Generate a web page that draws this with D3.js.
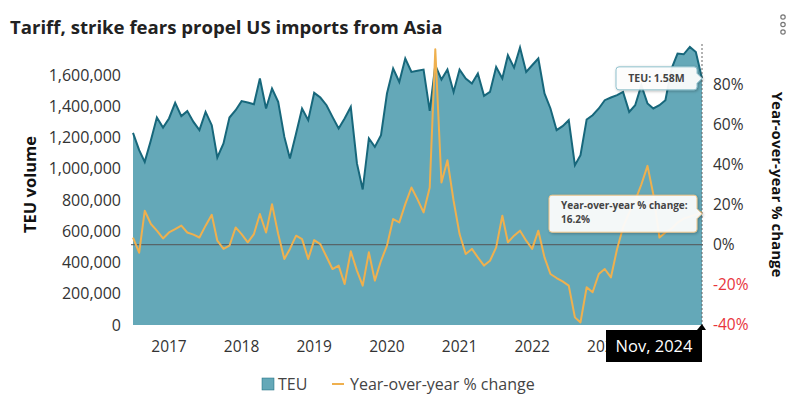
<!DOCTYPE html>
<html>
<head>
<meta charset="utf-8">
<script src="https://cdn.jsdelivr.net/npm/d3@7"></script>
<style>
    body { margin: 0; background: #fff; }
    text { font-family: "Open Sans", "Noto Sans", sans-serif; }
</style>
</head>
<body>
<div id="chart"></div>
<script>
// Datos mensuales, enero 2017 - noviembre 2024
var startMonth = new Date(2017, 0, 1);

var teuValues = [
    1231000, 1120000, 1045000, 1184000, 1329000, 1265000, 1323000, 1423000, 1338000, 1370000, 1301000, 1248000,
    1365000, 1280000, 1073000, 1163000, 1329000, 1376000, 1434000, 1425000, 1414000, 1579000, 1387000, 1515000,
    1429000, 1205000, 1067000, 1227000, 1387000, 1312000, 1487000, 1457000, 1408000, 1333000, 1259000, 1323000,
    1397000, 1035000, 868000, 1195000, 1141000, 1216000, 1483000, 1643000, 1557000, 1707000, 1621000, 1628000,
    1636000, 1371000, 1664000, 1572000, 1636000, 1493000, 1636000, 1579000, 1547000, 1611000, 1468000, 1493000,
    1653000, 1579000, 1728000, 1649000, 1777000, 1621000, 1664000, 1707000, 1483000, 1387000, 1248000, 1274000,
    1312000, 1024000, 1088000, 1316000, 1344000, 1387000, 1440000, 1457000, 1472000, 1493000, 1365000, 1408000,
    1536000, 1419000, 1387000, 1408000, 1440000, 1643000, 1739000, 1734000, 1781000, 1749000, 1580000
];

var yoyValues = [
    3.5, -4, 16.9, 10.3, 7, 3.1, 6.1, 7.8, 9.5, 6.1, 5, 3.6,
    9.5, 14.9, 2, -2.1, -0.5, 8.6, 5.3, 1.2, 5.3, 15.3, 6.1, 20.2,
    5.3, -7.1, -2.1, 4.5, 2.8, -7.1, 2.3, 0.3, -6, -12.1, -10.4, -19.6,
    -3.3, -12.9, -20.4, -3.8, -17.9, -8, -0.5, 12.8, 11.1, 20.2, 28.5, 22.7,
    16.1, 28.5, 97.4, 31, 42.1, 21.9, 5.3, -4.6, -2.1, -6.3, -10.4, -8,
    -1.3, 14.4, 1.2, 4.5, 7, 2, -2.1, 7, -6.3, -14.6, -16.6, -18.3,
    -20.4, -36.2, -38.7, -21.2, -23.7, -14.6, -12.1, -16.3, -2.1, 8.6, 16, 22,
    30, 39.3, 25.2, 3.6, 6.1, 8, 11, 13, 14, 15, 16.2
];

// 2024 queda tapado por la etiqueta de fecha
var yearLabels = [2017, 2018, 2019, 2020, 2021, 2022, 2023];
var teuTicks = [0, 200000, 400000, 600000, 800000, 1000000, 1200000, 1400000, 1600000];
var yoyTicks = [-40, -20, 0, 20, 40, 60, 80];

var data = teuValues.map(function(v, i) {
    return { date: d3.timeMonth.offset(startMonth, i), teu: v, yoy: yoyValues[i] };
});

var width = 795;
var height = 397;
var margin = { top: 44, right: 93, bottom: 72, left: 133 };

var teuColor = "#64a8b8";
var teuLine = "#17677b";
var yoyColor = "#efb04e";

var svg = d3.select("#chart")
    .append("svg")
    .attr("width", width)
    .attr("height", height);

// Escalas
var x = d3.scaleTime()
    .domain(d3.extent(data, function(d) { return d.date; }))
    .range([margin.left, width - margin.right]);

var yLeft = d3.scaleLinear()
    .domain([0, 1800000])
    .range([height - margin.bottom, margin.top]);

var yRight = d3.scaleLinear()
    .domain([-40, 100])
    .range([height - margin.bottom, margin.top]);

// Titulo
svg.append("text")
    .attr("x", 10)
    .attr("y", 34)
    .style("font-size", "18.6px")
    .style("font-weight", "bold")
    .style("fill", "#222")
    .text("Tariff, strike fears propel US imports from Asia");

// Menu
svg.selectAll(".dot")
    .data([17, 24.5, 32])
    .enter()
    .append("circle")
    .attr("cx", 783)
    .attr("cy", function(d) { return d; })
    .attr("r", 2.2)
    .style("fill", "none")
    .style("stroke", "#777")
    .style("stroke-width", 1.2);

// Area TEU
var area = d3.area()
    .x(function(d) { return x(d.date); })
    .y0(yLeft(0))
    .y1(function(d) { return yLeft(d.teu); });

var teuLineGen = d3.line()
    .x(function(d) { return x(d.date); })
    .y(function(d) { return yLeft(d.teu); });

svg.append("path")
    .datum(data)
    .attr("d", area)
    .style("fill", teuColor);

svg.append("path")
    .datum(data)
    .attr("d", teuLineGen)
    .style("fill", "none")
    .style("stroke", teuLine)
    .style("stroke-width", 2);

// Linea del 0%
svg.append("line")
    .attr("x1", margin.left - 2)
    .attr("x2", width - margin.right + 1)
    .attr("y1", yRight(0))
    .attr("y2", yRight(0))
    .style("stroke", "#555")
    .style("stroke-width", 1);

// Linea YoY
var yoyLineGen = d3.line()
    .x(function(d) { return x(d.date); })
    .y(function(d) { return yRight(d.yoy); });

svg.append("path")
    .datum(data)
    .attr("d", yoyLineGen)
    .style("fill", "none")
    .style("stroke", yoyColor)
    .style("stroke-width", 2)
    .style("stroke-linejoin", "round");

// Ejes
svg.selectAll(".lefttick")
    .data(teuTicks)
    .enter()
    .append("text")
    .attr("x", margin.left - 12)
    .attr("y", function(d) { return yLeft(d); })
    .attr("dy", "0.35em")
    .style("text-anchor", "end")
    .style("font-size", "16px")
    .style("fill", "#333")
    .text(function(d) { return d3.format(",")(d); });

svg.selectAll(".righttick")
    .data(yoyTicks)
    .enter()
    .append("text")
    .attr("x", width - margin.right + 11)
    .attr("y", function(d) { return yRight(d); })
    .attr("dy", "0.35em")
    .style("text-anchor", "start")
    .style("font-size", "15.5px")
    .style("fill", function(d) { return d < 0 ? "#e8343c" : "#333"; })
    .text(function(d) { return d + "%"; });

svg.selectAll(".yeartick")
    .data(yearLabels)
    .enter()
    .append("text")
    .attr("x", function(d) { return x(new Date(d, 6, 1)); })
    .attr("y", 347)
    .attr("dy", "0.35em")
    .style("text-anchor", "middle")
    .style("font-size", "15.5px")
    .style("fill", "#333")
    .text(function(d) { return d; });

svg.append("text")
    .attr("transform", "translate(30," + ((margin.top + height - margin.bottom) / 2) + ") rotate(-90)")
    .attr("dy", "0.35em")
    .style("text-anchor", "middle")
    .style("font-size", "16.5px")
    .style("font-weight", "bold")
    .style("fill", "#111")
    .text("TEU volume");

svg.append("text")
    .attr("transform", "translate(777," + ((margin.top + height - margin.bottom) / 2) + ") rotate(90)")
    .attr("dy", "0.35em")
    .style("text-anchor", "middle")
    .style("font-size", "15px")
    .style("font-weight", "bold")
    .style("fill", "#111")
    .text("Year-over-year % change");

// Crosshair en el ultimo punto
var last = data[data.length - 1];
var lx = x(last.date);

svg.append("line")
    .attr("x1", lx)
    .attr("x2", lx)
    .attr("y1", margin.top)
    .attr("y2", height - margin.bottom)
    .style("stroke", "#666")
    .style("stroke-width", 1)
    .style("stroke-dasharray", "2,2");

// Tooltips
function tooltipPath(ax, ay, w, h) {
    var r = 3, right = ax - 5, left = right - w, top = ay - h / 2, bottom = ay + h / 2;
    return "M" + (left + r) + "," + top +
        "H" + (right - r) + "Q" + right + "," + top + " " + right + "," + (top + r) +
        "V" + (ay - 5) + "L" + ax + "," + ay + "L" + right + "," + (ay + 5) +
        "V" + (bottom - r) + "Q" + right + "," + bottom + " " + (right - r) + "," + bottom +
        "H" + (left + r) + "Q" + left + "," + bottom + " " + left + "," + (bottom - r) +
        "V" + (top + r) + "Q" + left + "," + top + " " + (left + r) + "," + top + "Z";
}

var defs = svg.append("defs");
var filter = defs.append("filter").attr("id", "shadow").attr("x", "-20%").attr("y", "-30%").attr("width", "140%").attr("height", "160%");
filter.append("feDropShadow")
    .attr("dx", 1).attr("dy", 1).attr("stdDeviation", 1.5)
    .attr("flood-color", "#000").attr("flood-opacity", 0.3);

var teuY = yLeft(last.teu);
svg.append("path")
    .attr("d", tooltipPath(lx, teuY, 81, 23))
    .attr("filter", "url(#shadow)")
    .style("fill", "#fff")
    .style("fill-opacity", 0.92)
    .style("stroke", "#8fc0cc")
    .style("stroke-width", 1);

svg.append("text")
    .attr("x", lx - 5 - 81 / 2)
    .attr("y", teuY)
    .attr("dy", "0.35em")
    .style("text-anchor", "middle")
    .style("font-size", "10.5px")
    .style("font-weight", "bold")
    .style("fill", "#444")
    .text("TEU: " + d3.format(".3s")(last.teu).replace("G", "B"));

var yoyY = yRight(last.yoy);
svg.append("path")
    .attr("d", tooltipPath(lx, yoyY + 1.5, 148, 37))
    .attr("filter", "url(#shadow)")
    .style("fill", "#fff")
    .style("fill-opacity", 0.92)
    .style("stroke", "#eec487")
    .style("stroke-width", 1);

svg.append("text")
    .attr("x", lx - 5 - 148 + 12)
    .attr("y", yoyY - 3)
    .style("font-size", "10px")
    .style("font-weight", "bold")
    .style("fill", "#444")
    .text("Year-over-year % change:");

svg.append("text")
    .attr("x", lx - 5 - 148 + 12)
    .attr("y", yoyY + 11)
    .style("font-size", "10px")
    .style("font-weight", "bold")
    .style("fill", "#444")
    .text(last.yoy.toFixed(1) + "%");

// Etiqueta de fecha
var dateY = height - margin.bottom;
svg.append("path")
    .attr("d", "M" + (lx - 5) + "," + (dateY + 5) + "L" + lx + "," + (dateY - 1) + "L" + (lx + 4) + "," + (dateY + 5) + "Z")
    .style("fill", "#000");

svg.append("rect")
    .attr("x", lx - 96)
    .attr("y", dateY + 5)
    .attr("width", 96)
    .attr("height", 32)
    .style("fill", "#000");

svg.append("text")
    .attr("x", lx - 48)
    .attr("y", dateY + 21)
    .attr("dy", "0.35em")
    .style("text-anchor", "middle")
    .style("font-size", "16.5px")
    .style("fill", "#fff")
    .text(d3.timeFormat("%b, %Y")(last.date));

// Leyenda
var legend = svg.append("g").attr("transform", "translate(262,384)");

legend.append("rect")
    .attr("x", 0)
    .attr("y", -6)
    .attr("width", 12)
    .attr("height", 12)
    .style("fill", teuColor)
    .style("stroke", teuLine)
    .style("stroke-width", 0.5);

legend.append("text")
    .attr("x", 16)
    .attr("dy", "0.35em")
    .style("font-size", "16px")
    .style("fill", "#444")
    .text("TEU");

legend.append("line")
    .attr("x1", 70)
    .attr("x2", 82)
    .attr("y1", 0)
    .attr("y2", 0)
    .style("stroke", yoyColor)
    .style("stroke-width", 2);

legend.append("text")
    .attr("x", 88)
    .attr("dy", "0.35em")
    .style("font-size", "16px")
    .style("fill", "#444")
    .text("Year-over-year % change");
</script>
</body>
</html>
